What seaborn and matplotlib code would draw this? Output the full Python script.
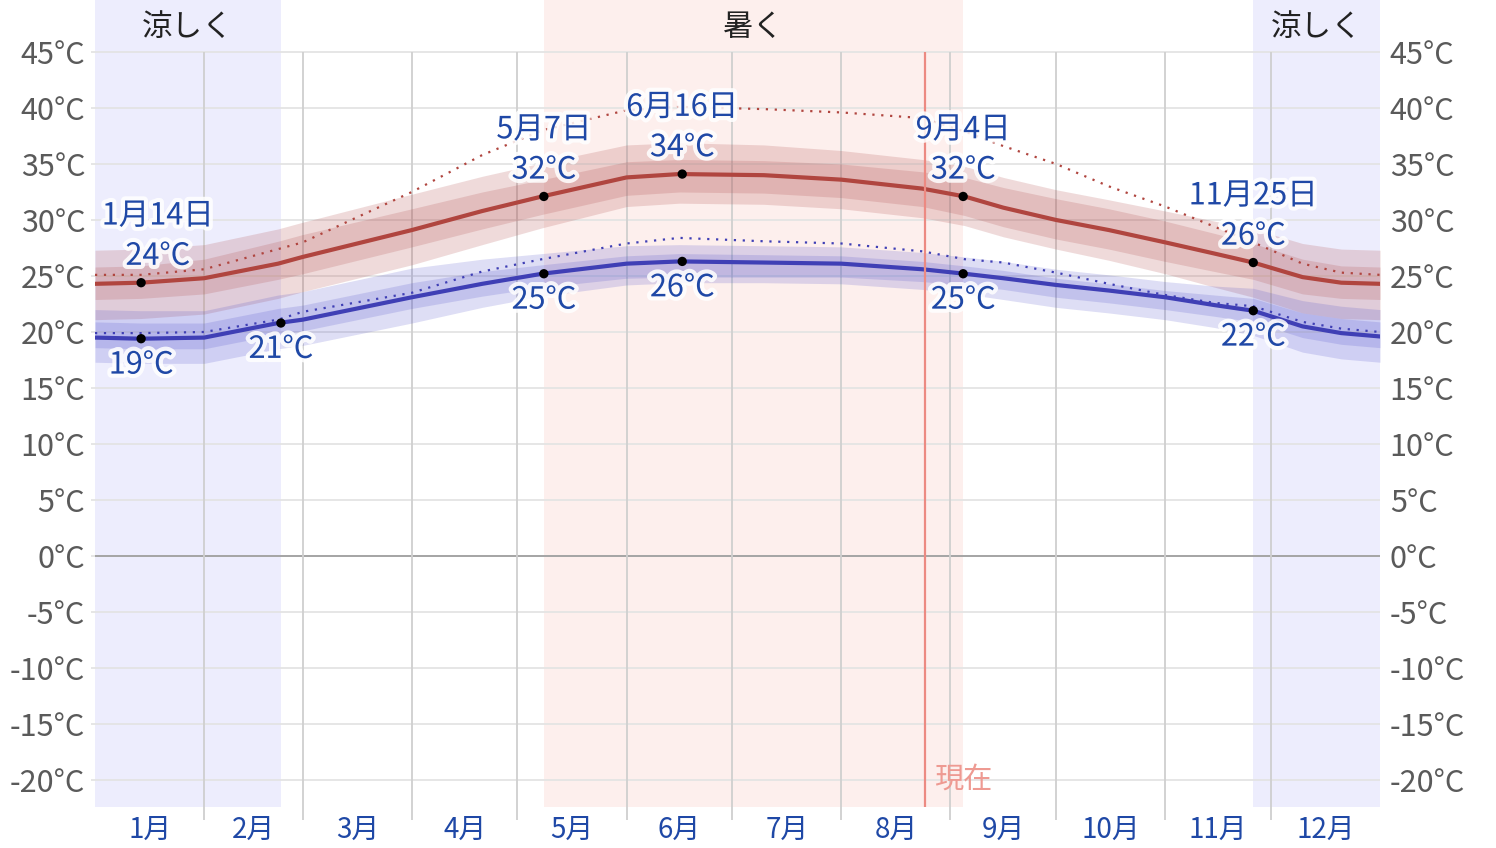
import seaborn as sns
import matplotlib.pyplot as plt
import matplotlib.patheffects as pe

# day of year (0 = Jan 1) for the points
days = [0, 13, 31, 52, 59, 90, 110, 127, 151, 166, 190, 212, 235, 247, 258, 273, 288, 304, 318, 329, 343, 354, 365]

# average daily high and its 25-75 / 10-90 percentile bands
high = [24.3, 24.4, 24.8, 26.1, 26.7, 29.1, 30.8, 32.1, 33.8, 34.1, 34.0, 33.6, 32.8, 32.1, 31.1, 30.0, 29.1, 28.0, 27.0, 26.2, 24.9, 24.4, 24.3]
high_p90 = [27.3, 27.4, 27.8, 29.2, 29.8, 32.3, 33.9, 35.1, 36.7, 36.9, 36.7, 36.2, 35.4, 34.8, 33.8, 32.7, 31.8, 30.8, 29.9, 29.2, 27.9, 27.4, 27.3]
high_p75 = [25.8, 25.9, 26.5, 28.1, 28.7, 31.0, 32.5, 33.6, 35.2, 35.4, 35.3, 35.0, 34.3, 33.8, 32.9, 31.9, 31.0, 29.9, 28.8, 27.9, 26.5, 25.9, 25.8]
high_p25 = [22.9, 23.0, 23.4, 24.7, 25.2, 27.6, 29.2, 30.5, 32.2, 32.5, 32.4, 32.0, 31.2, 30.4, 29.4, 28.3, 27.4, 26.3, 25.4, 24.7, 23.4, 23.0, 22.9]
high_p10 = [21.1, 21.2, 21.6, 23.0, 23.6, 26.0, 27.8, 29.3, 31.2, 31.5, 31.4, 31.0, 30.2, 29.5, 28.5, 27.4, 26.4, 25.2, 24.0, 23.1, 21.7, 21.2, 21.1]

# average daily low and its bands
low = [19.5, 19.4, 19.5, 20.8, 21.1, 23.1, 24.3, 25.2, 26.1, 26.3, 26.2, 26.1, 25.6, 25.2, 24.8, 24.2, 23.7, 23.1, 22.4, 21.9, 20.5, 19.9, 19.6]
low_p90 = [22.0, 21.9, 21.9, 23.3, 23.6, 25.7, 26.5, 27.0, 27.7, 27.8, 27.7, 27.6, 27.1, 26.7, 26.3, 25.6, 25.1, 24.5, 24.1, 23.9, 22.8, 22.3, 22.0]
low_p75 = [20.9, 20.8, 20.8, 22.1, 22.4, 24.4, 25.4, 26.0, 26.8, 27.0, 26.9, 26.8, 26.3, 25.9, 25.5, 24.8, 24.3, 23.7, 23.3, 23.0, 21.7, 21.2, 20.9]
low_p25 = [18.6, 18.5, 18.5, 19.8, 20.1, 22.1, 23.2, 24.0, 24.8, 24.9, 24.9, 24.9, 24.5, 24.2, 23.8, 23.1, 22.6, 22.0, 21.4, 20.9, 19.5, 18.9, 18.6]
low_p10 = [17.3, 17.2, 17.2, 18.5, 18.8, 20.8, 22.2, 23.2, 24.2, 24.4, 24.4, 24.3, 23.8, 23.4, 22.9, 22.2, 21.7, 21.1, 20.4, 19.7, 18.2, 17.6, 17.3]

# perceived (feels like) high / low
feels_high = [25.1, 25.1, 25.6, 27.4, 28.0, 32.5, 35.8, 38.0, 39.8, 40.1, 39.9, 39.6, 39.1, 37.9, 36.6, 35.0, 33.0, 31.2, 29.4, 28.0, 26.1, 25.3, 25.1]
feels_low = [19.9, 19.9, 20.0, 21.1, 21.8, 23.5, 25.4, 26.5, 27.9, 28.4, 28.1, 27.9, 27.2, 26.5, 26.2, 25.3, 24.3, 23.3, 22.6, 22.3, 20.9, 20.3, 20.0]

# highlighted points
hi_days = [13.1, 127.5, 166.8, 246.6, 329.0]
hi_vals = [24.4, 32.1, 34.1, 32.1, 26.2]
hi_dates = ["1月14日", "5月7日", "6月16日", "9月4日", "11月25日"]
lo_days = [13.1, 52.8, 127.5, 166.8, 246.6, 329.0]
lo_vals = [19.4, 20.8, 25.2, 26.3, 25.2, 21.9]

month_starts = [31, 59, 90, 120, 151, 181, 212, 243, 273, 304, 334]
month_mids = [15.5, 45, 74.5, 105, 135.5, 166, 196.5, 227.5, 258, 288.5, 319, 349.5]
month_labels = ["1月", "2月", "3月", "4月", "5月", "6月", "7月", "8月", "9月", "10月", "11月", "12月"]
y_ticks = list(range(-20, 50, 5))

cool_spans = [(0, 52.8), (329.0, 365)]
hot_span = (127.5, 246.6)
today = 235.8

sns.set_theme(style="white")
plt.rcParams['font.family'] = ['Noto Sans CJK JP', 'DejaVu Sans']

RED = "#b0453f"
BLUE = "#3f3fb5"
LABEL = "#1f48a6"

fig = plt.figure(figsize=(14.96, 8.48), dpi=100)
ax = fig.add_axes([95 / 1496, 1 - 807 / 848, 1285 / 1496, 807 / 848])
ax.set_xlim(0, 365)
ax.set_ylim(-22.41, 49.64)
for s in ax.spines.values():
    s.set_visible(False)

# seasons
for a, b in cool_spans:
    ax.axvspan(a, b, color="#ededfd", zorder=0, lw=0)
ax.axvspan(*hot_span, color="#fdefed", zorder=0, lw=0)

# grid
ax.hlines(y_ticks, -1, 365, color="#e4e4e4", lw=1.3, zorder=1, clip_on=False)
ax.axhline(0, color="#a0a0a0", lw=1.3, zorder=1)
ax.vlines(month_starts, -23.6, 45, color="#cfcfcf", lw=1.3, zorder=1, clip_on=False)
ax.vlines(today, -22.4, 45, color="#ec8a82", lw=1.6, zorder=6)
ax.text(today + 2.6, -20, "現在", color="#ee9a92", fontsize=21, va="center", ha="left")

# percentile bands
ax.fill_between(days, high_p10, high_p90, color="#b04a4a", alpha=0.2, lw=0, zorder=2)
ax.fill_between(days, high_p25, high_p75, color="#b04a4a", alpha=0.2, lw=0, zorder=2)
ax.fill_between(days, low_p10, low_p90, color="#4848c8", alpha=0.18, lw=0, zorder=2)
ax.fill_between(days, low_p25, low_p75, color="#4848c8", alpha=0.18, lw=0, zorder=2)

# lines
sns.lineplot(x=days, y=feels_high, ax=ax, color=RED, lw=1.6, linestyle=(0, (1, 3)), zorder=3)
sns.lineplot(x=days, y=feels_low, ax=ax, color=BLUE, lw=1.6, linestyle=(0, (1, 3)), zorder=3)
sns.lineplot(x=days, y=high, ax=ax, color=RED, lw=3, zorder=4)
sns.lineplot(x=days, y=low, ax=ax, color=BLUE, lw=3, zorder=4)
sns.scatterplot(x=hi_days + lo_days, y=hi_vals + lo_vals, ax=ax, color="black", s=45, zorder=7, edgecolor="none")

halo = [pe.withStroke(linewidth=6, foreground="white", alpha=0.85)]
for i, (d, v, lab) in enumerate(zip(hi_days, hi_vals, hi_dates)):
    dx = 12 if i == 0 else 0
    ax.annotate(f"{round(v)}°C", (d, v), xytext=(dx, 19), textcoords="offset points",
                ha="center", va="center", color=LABEL, fontsize=22, path_effects=halo, zorder=8)
    ax.annotate(lab, (d, v), xytext=(dx, 48), textcoords="offset points",
                ha="center", va="center", color=LABEL, fontsize=22, path_effects=halo, zorder=8)
for d, v in zip(lo_days, lo_vals):
    ax.annotate(f"{round(v)}°C", (d, v), xytext=(0, -19), textcoords="offset points",
                ha="center", va="center", color=LABEL, fontsize=22, path_effects=halo, zorder=8)

# season labels
for a, b in cool_spans:
    ax.text((a + b) / 2, 47.2, "涼しく", ha="center", va="center", fontsize=22, color="#222222")
ax.text(sum(hot_span) / 2, 47.2, "暑く", ha="center", va="center", fontsize=22, color="#222222")

# axes labels
ax.set_yticks(y_ticks)
ax.set_yticklabels([f"{t}°C" for t in y_ticks])
ax.set_xticks(month_mids)
ax.set_xticklabels(month_labels)
ax.tick_params(axis="y", left=False, right=False, labelleft=True, labelright=True,
               labelsize=22, labelcolor="#5a5a5a", pad=1)
ax.tick_params(axis="x", bottom=False, labelsize=20, labelcolor=LABEL, pad=0)
ax.set_xlabel("")
ax.set_ylabel("")
ax.grid(False)

fig.savefig("out.png", dpi=100)
